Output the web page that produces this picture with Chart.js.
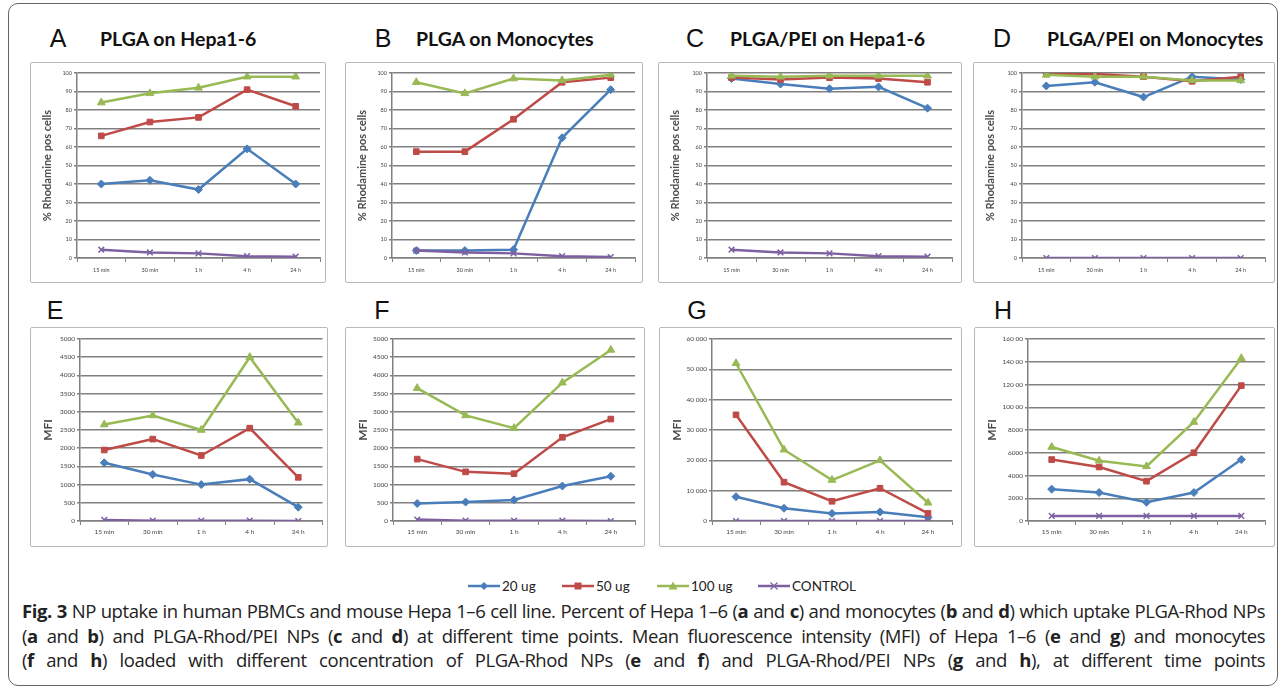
<!DOCTYPE html>
<html>
<head>
<meta charset="utf-8">
<script src="https://cdn.jsdelivr.net/npm/chart.js@4.4.0/dist/chart.umd.min.js"></script>
<style>
  body { margin: 0; background: #fff; }
  #page { position: relative; width: 1281px; height: 690px; overflow: hidden; background: #fff; }
  .frame { position: absolute; left: 8px; top: 3px; width: 1268px; height: 681px; border: 1.5px solid #666; border-radius: 10px; }
  .box { position: absolute; border: 1.5px solid #b8b8b8; border-radius: 2px; box-sizing: border-box; }
  .letter { position: absolute; font-family: 'Liberation Sans', Arial, sans-serif; font-size: 25px; color: #111; transform: translate(-50%, -50%); }
  .ptitle { position: absolute; font-family: Lato, 'Open Sans', sans-serif; font-weight: bold; font-size: 19.5px; color: #111; transform: translateY(-50%); white-space: nowrap; }
  .legend { position: absolute; top: 578px; font-family: Lato, sans-serif; font-size: 13.5px; color: #222; display: flex; align-items: center; }
  .legend svg { margin-right: 2px; }
  .caption { position: absolute; left: 22px; width: 1243px; font-family: 'Open Sans', sans-serif; font-size: 18.5px; letter-spacing: -0.45px; color: #222; text-align: justify; text-align-last: justify; white-space: nowrap; line-height: 24px; }
  canvas { position: absolute; }
</style>
</head>
<body>
<div id="page">
  <div class="frame"></div>
</div>
<script>
// Kategori waktu dan seri
const timePoints = ['15 min', '30 min', '1 h', '4 h', '24 h'];
const seriesNames = ['20 ug', '50 ug', '100 ug', 'CONTROL'];
const seriesColors = ['#4a7ebb', '#be4b48', '#98b954', '#7d60a0'];
const seriesMarkers = ['rectRot', 'rect', 'triangle', 'crossRot'];

// Label tick sumbu Y
const pctTickLabels = ['0', '10', '20', '30', '40', '50', '60', '70', '80', '90', '100'];
const mfiTickLabelsEF = ['0', '500', '1000', '1500', '2000', '2500', '3000', '3500', '4000', '4500', '5000'];
const mfiTickLabelsG = ['0', '10 000', '20 000', '30 000', '40 000', '50 000', '60 000'];
const mfiTickLabelsH = ['0', '2000', '4000', '6000', '8000', '100 00', '120 00', '140 00', '160 00'];

// A - PLGA on Hepa1-6 (%)
const a20 = [40, 42, 37, 59, 40];
const a50 = [66, 73.5, 76, 91, 82];
const a100 = [84, 89, 92, 98, 98];
const aCtrl = [4.5, 3, 2.5, 1, 0.7];
// B - PLGA on Monocytes (%)
const b20 = [4, 4, 4.5, 65, 91];
const b50 = [57.5, 57.5, 75, 95, 97.5];
const b100 = [95, 89, 97, 96, 99];
const bCtrl = [4, 3, 2.5, 1, 0.5];
// C - PLGA/PEI on Hepa1-6 (%)
const c20 = [97, 94, 91.5, 92.5, 81];
const c50 = [97.5, 96.5, 97.5, 97, 95];
const c100 = [98.5, 98, 98.5, 98.5, 98.5];
const cCtrl = [4.5, 3, 2.5, 1, 0.7];
// D - PLGA/PEI on Monocytes (%)
const d20 = [93, 95, 87, 98, 96.5];
const d50 = [99.5, 99.5, 98, 95.5, 98];
const d100 = [99, 98, 98, 96, 96];
const dCtrl = [0, 0, 0, 0, 0];
// E - MFI
const e20 = [1600, 1280, 1000, 1150, 380];
const e50 = [1950, 2250, 1800, 2550, 1200];
const e100 = [2650, 2900, 2500, 4500, 2700];
const eCtrl = [30, 10, 10, 10, 0];
// F - MFI
const f20 = [480, 520, 580, 960, 1230];
const f50 = [1700, 1350, 1300, 2300, 2800];
const f100 = [3650, 2900, 2550, 3800, 4700];
const fCtrl = [40, 10, 10, 10, 0];
// G - MFI
const g20 = [8000, 4200, 2500, 3000, 1200];
const g50 = [35000, 12800, 6500, 10800, 2500];
const g100 = [52000, 23500, 13500, 20000, 6000];
const gCtrl = [0, 0, 0, 0, 0];
// H - MFI
const h20 = [2800, 2500, 1650, 2500, 5400];
const h50 = [5400, 4750, 3500, 6000, 11900];
const h100 = [6500, 5300, 4800, 8700, 14300];
const hCtrl = [450, 450, 450, 450, 450];

const page = document.getElementById('page');

function addEl(cls, html, style) {
    const el = document.createElement('div');
    el.className = cls;
    el.innerHTML = html;
    Object.assign(el.style, style);
    page.appendChild(el);
    return el;
}

function makePanel(p) {
    const box = p.box, plot = p.plot;
    addEl('box', '', { left: box.x + 'px', top: box.y + 'px', width: box.w + 'px', height: box.h + 'px' });

    const cv = document.createElement('canvas');
    cv.width = box.w; cv.height = box.h;
    cv.style.left = box.x + 'px'; cv.style.top = box.y + 'px';
    cv.style.width = box.w + 'px'; cv.style.height = box.h + 'px';
    page.appendChild(cv);

    const markerSize = [4, 4, 4.5, 4];
    new Chart(cv, {
        type: 'line',
        data: {
            labels: timePoints,
            datasets: p.series.map((d, i) => ({
                label: seriesNames[i],
                data: d,
                borderColor: seriesColors[i],
                backgroundColor: seriesColors[i],
                pointStyle: seriesMarkers[i],
                pointRadius: markerSize[i],
                pointBorderWidth: i === 3 ? 1.5 : 1,
                borderWidth: 2.5,
                tension: 0,
                order: 3 - i
            }))
        },
        options: {
            responsive: false,
            animation: false,
            events: [],
            layout: { padding: { left: 0, top: plot.t - box.y, right: box.x + box.w - plot.r, bottom: 0 } },
            plugins: { legend: { display: false }, tooltip: { enabled: false } },
            scales: {
                x: {
                    offset: true,
                    grid: { offset: true, drawOnChartArea: false, color: '#808080', lineWidth: 1, tickLength: 4 },
                    border: { color: '#808080', width: 1.5 },
                    ticks: { font: { size: p.xFont, family: 'Lato' }, color: '#444', padding: p.xPad, maxRotation: 0, autoSkip: false },
                    afterFit: s => { s.height = box.y + box.h - plot.b; }
                },
                y: {
                    min: 0, max: p.yMax,
                    ticks: { stepSize: p.yStep, callback: (v, i) => p.tickLabels[i], font: { size: p.yFont, family: 'Lato' }, color: '#444', padding: 2 },
                    grid: { color: '#808080', lineWidth: 1.5, tickLength: 3 },
                    border: { color: '#808080', width: 1.5 },
                    title: { display: true, text: p.yTitle, color: '#4a4a4a', font: { size: p.titleSize, weight: 'bold', family: 'Lato' }, padding: { top: p.titlePad, bottom: 0 } },
                    afterFit: s => { s.width = plot.l - box.x; }
                }
            }
        }
    });

    addEl('letter', p.letter, { left: p.letterX + 'px', top: p.letterY + 'px' });
    if (p.title) addEl('ptitle', p.title, { left: p.titleX + 'px', top: p.letterY + 'px' });
}

const pctLabel = '% Rhodamine pos cells';
const topRow = { xFont: 5.5, xPad: 5, yFont: 5.5, titleSize: 11, titlePad: 11, yMax: 100, yStep: 10, tickLabels: pctTickLabels, yTitle: pctLabel, letterY: 38 };
const botRow = { xFont: 6.5, xPad: 3, yFont: 6.5, titleSize: 12, titlePad: 11, yTitle: 'MFI', letterY: 310 };

makePanel(Object.assign({}, topRow, { box: { x: 30, y: 62, w: 296, h: 221 }, plot: { l: 77, t: 73, r: 320, b: 258 }, series: [a20, a50, a100, aCtrl], letter: 'A', letterX: 58, title: 'PLGA on Hepa1-6', titleX: 100 }));
makePanel(Object.assign({}, topRow, { box: { x: 345, y: 62, w: 298, h: 221 }, plot: { l: 392, t: 73, r: 635, b: 258 }, series: [b20, b50, b100, bCtrl], letter: 'B', letterX: 383, title: 'PLGA on Monocytes', titleX: 416 }));
makePanel(Object.assign({}, topRow, { box: { x: 658, y: 62, w: 304, h: 221 }, plot: { l: 707, t: 73, r: 952, b: 258 }, series: [c20, c50, c100, cCtrl], letter: 'C', letterX: 695, title: 'PLGA/PEI on Hepa1-6', titleX: 730 }));
makePanel(Object.assign({}, topRow, { box: { x: 973, y: 62, w: 302, h: 221 }, plot: { l: 1022, t: 73, r: 1265, b: 258 }, series: [d20, d50, d100, dCtrl], letter: 'D', letterX: 1002, title: 'PLGA/PEI on Monocytes', titleX: 1047 }));

makePanel(Object.assign({}, botRow, { box: { x: 30, y: 327, w: 298, h: 220 }, plot: { l: 80, t: 339, r: 323, b: 521 }, series: [e20, e50, e100, eCtrl], yMax: 5000, yStep: 500, tickLabels: mfiTickLabelsEF, letter: 'E', letterX: 55 }));
makePanel(Object.assign({}, botRow, { box: { x: 345, y: 327, w: 300, h: 220 }, plot: { l: 393, t: 339, r: 635, b: 521 }, series: [f20, f50, f100, fCtrl], yMax: 5000, yStep: 500, tickLabels: mfiTickLabelsEF, letter: 'F', letterX: 382 }));
makePanel(Object.assign({}, botRow, { box: { x: 659, y: 327, w: 303, h: 220 }, plot: { l: 712, t: 339, r: 952, b: 521 }, series: [g20, g50, g100, gCtrl], yMax: 60000, yStep: 10000, tickLabels: mfiTickLabelsG, letter: 'G', letterX: 697 }));
makePanel(Object.assign({}, botRow, { box: { x: 974, y: 327, w: 301, h: 220 }, plot: { l: 1028, t: 339, r: 1265, b: 521 }, series: [h20, h50, h100, hCtrl], yMax: 16000, yStep: 2000, tickLabels: mfiTickLabelsH, letter: 'H', letterX: 1003 }));

// Legenda bersama
const markerSvg = [
    c => `<polygon points="16,2 20,6 16,10 12,6" fill="${c}"/>`,
    c => `<rect x="12.5" y="2.5" width="7" height="7" fill="${c}"/>`,
    c => `<polygon points="16,1.5 20.5,9.5 11.5,9.5" fill="${c}"/>`,
    c => `<path d="M12.5 2.5 L19.5 9.5 M19.5 2.5 L12.5 9.5" stroke="${c}" stroke-width="1.2"/>`
];
const legendX = [468, 562, 657, 758];
seriesNames.forEach((name, i) => {
    const svg = `<svg width="32" height="12"><line x1="0" y1="6" x2="32" y2="6" stroke="${seriesColors[i]}" stroke-width="2.5"/>${markerSvg[i](seriesColors[i])}</svg>`;
    addEl('legend', svg + '<span>' + name + '</span>', { left: legendX[i] + 'px' });
});

// Keterangan gambar
const captionLines = [
    '<b>Fig. 3</b> NP uptake in human PBMCs and mouse Hepa 1–6 cell line. Percent of Hepa 1–6 (<b>a</b> and <b>c</b>) and monocytes (<b>b</b> and <b>d</b>) which uptake PLGA-Rhod NPs',
    '(<b>a</b> and <b>b</b>) and PLGA-Rhod/PEI NPs (<b>c</b> and <b>d</b>) at different time points. Mean fluorescence intensity (MFI) of Hepa 1–6 (<b>e</b> and <b>g</b>) and monocytes',
    '(<b>f</b> and <b>h</b>) loaded with different concentration of PLGA-Rhod NPs (<b>e</b> and <b>f</b>) and PLGA-Rhod/PEI NPs (<b>g</b> and <b>h</b>), at different time points'
];
captionLines.forEach((line, i) => {
    addEl('caption', line, { top: (599 + i * 24.5) + 'px' });
});
</script>
</body>
</html>
